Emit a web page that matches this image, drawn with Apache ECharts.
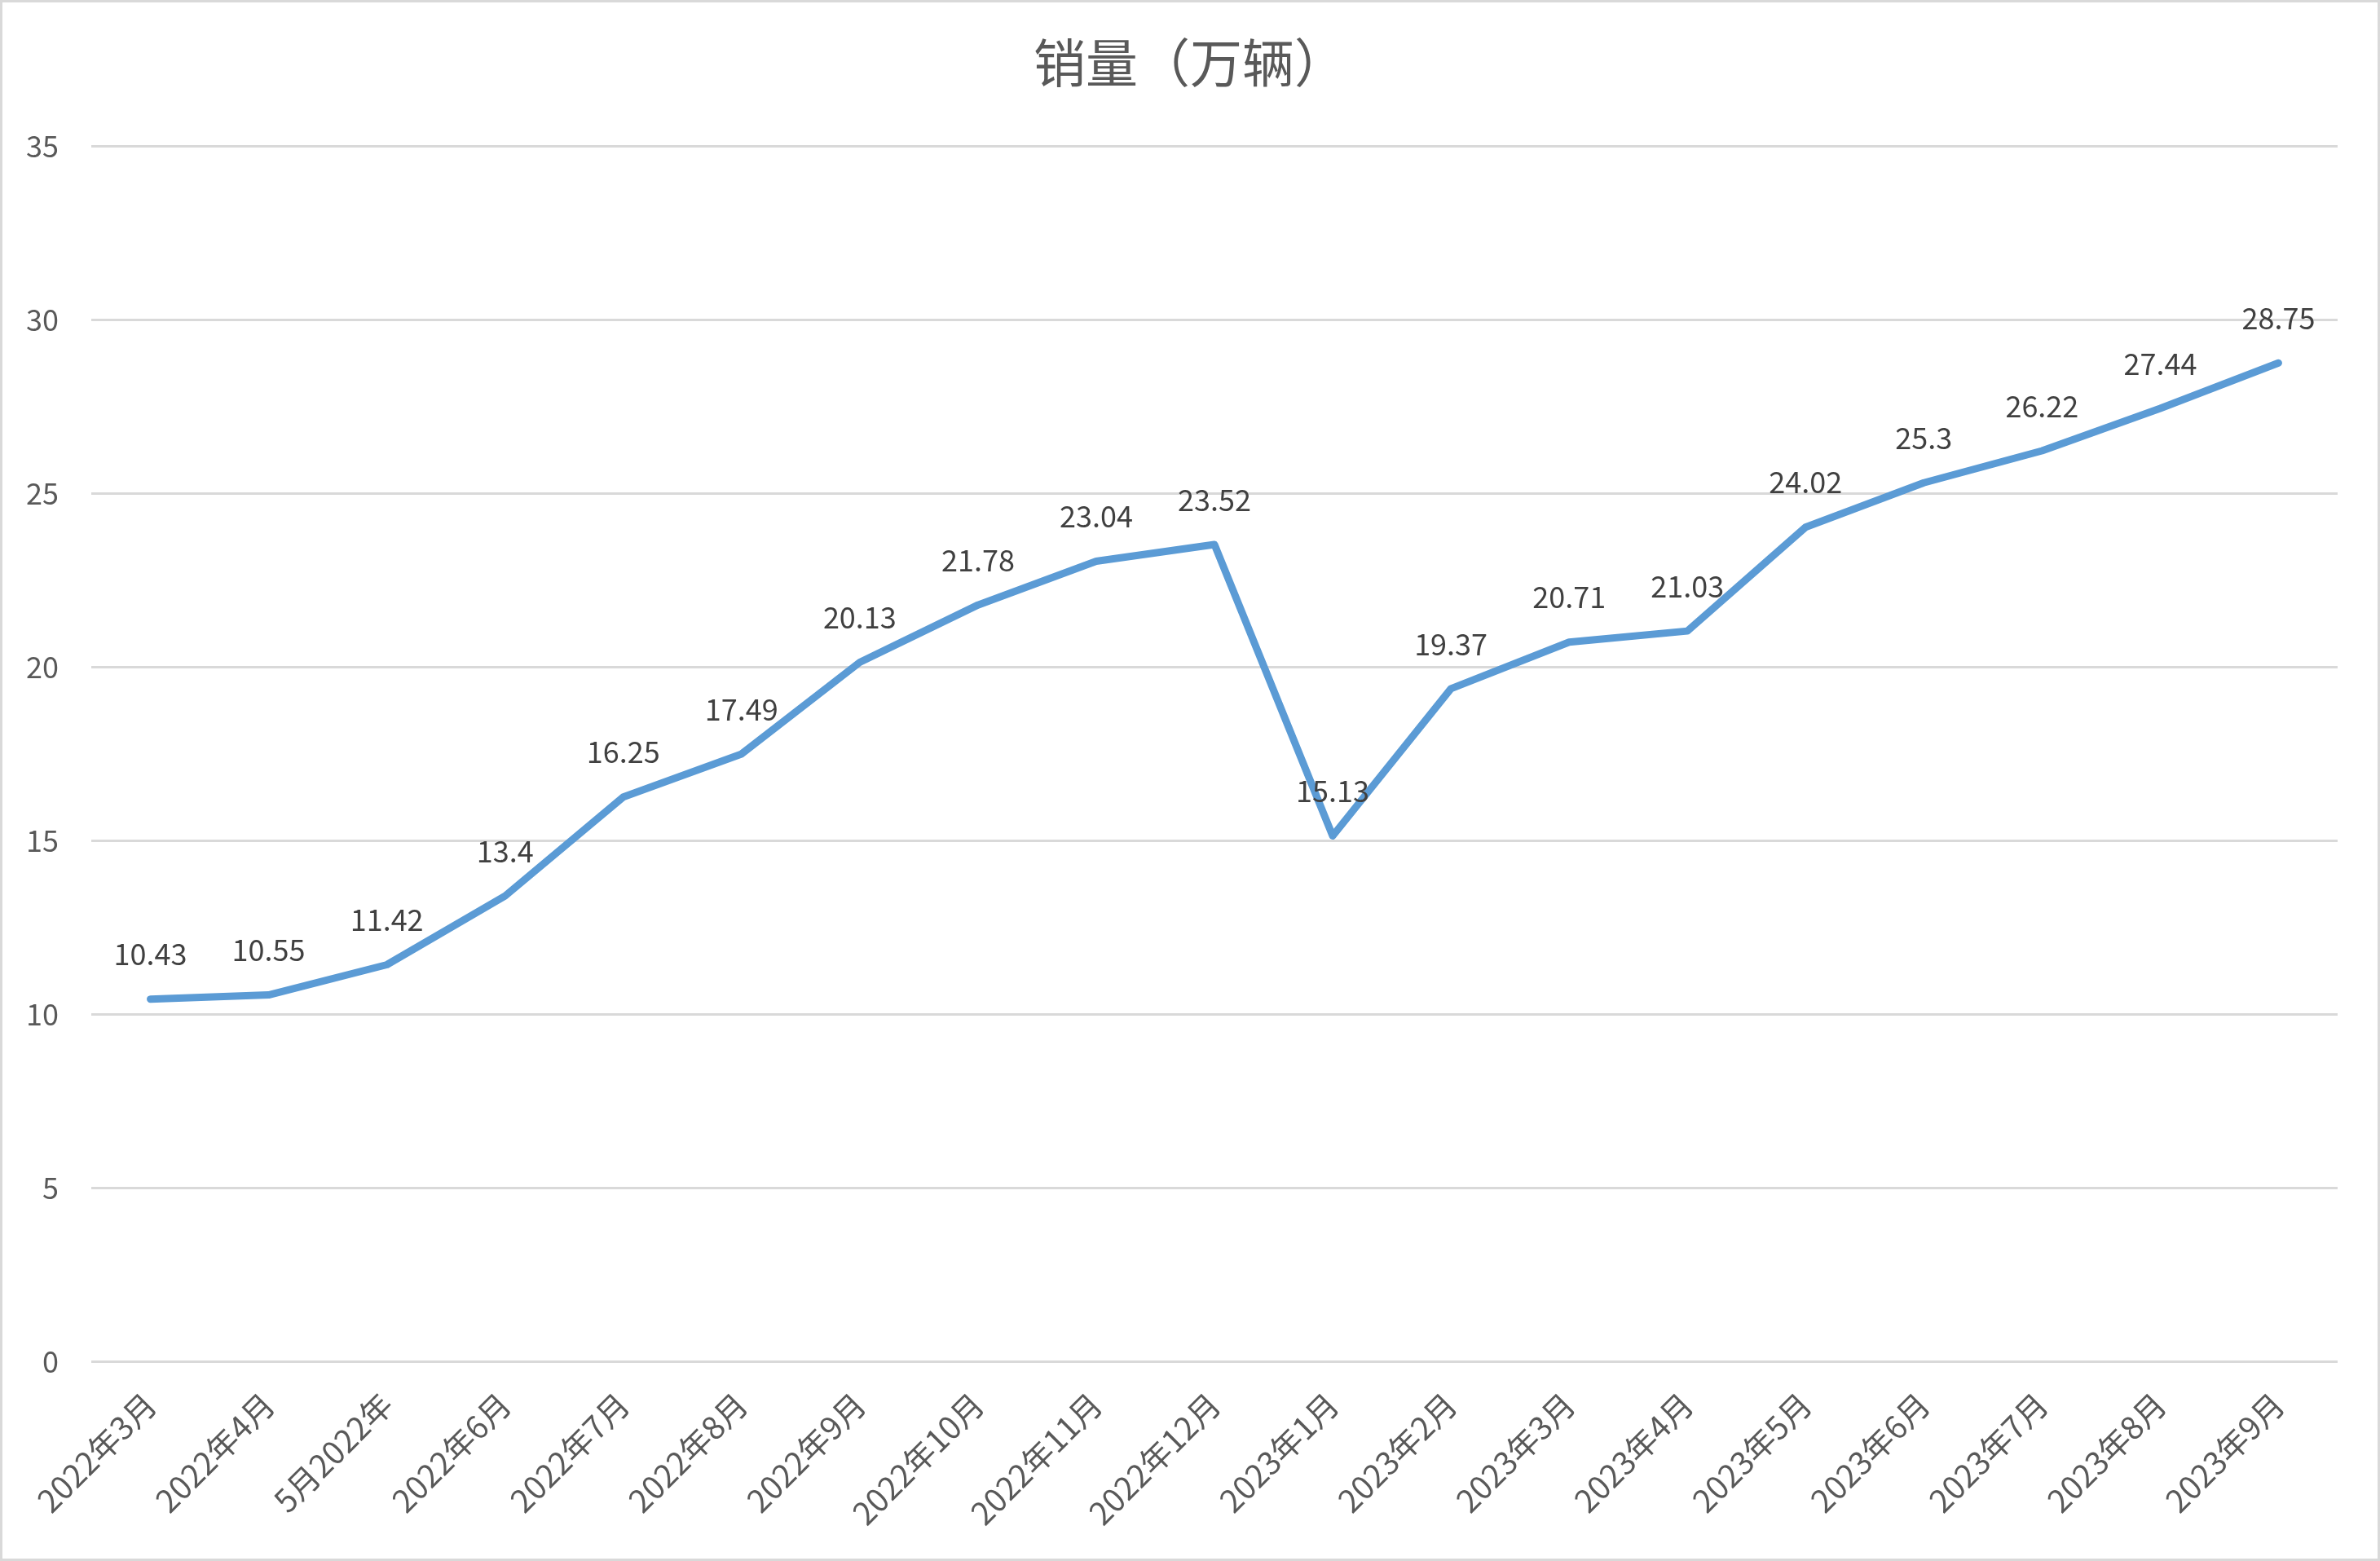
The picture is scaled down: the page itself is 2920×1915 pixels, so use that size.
<!DOCTYPE html>
<html>
<head>
<meta charset="utf-8">
<script src="https://cdn.jsdelivr.net/npm/echarts@6/dist/echarts.min.js"></script>
<style>
html,body{margin:0;padding:0;background:#fff;}
#wrap{position:absolute;left:0;top:0;width:2914px;height:1909px;border:3px solid #d9d9d9;}
#chart{position:absolute;left:-3px;top:-3px;width:2920px;height:1915px;}
</style>
</head>
<body>
<div id="wrap"><div id="chart"></div></div>
<script>
const categories = ['2022年3月','2022年4月','5月2022年','2022年6月','2022年7月','2022年8月','2022年9月','2022年10月','2022年11月','2022年12月','2023年1月','2023年2月','2023年3月','2023年4月','2023年5月','2023年6月','2023年7月','2023年8月','2023年9月'];
const sales = [10.43,10.55,11.42,13.4,16.25,17.49,20.13,21.78,23.04,23.52,15.13,19.37,20.71,21.03,24.02,25.3,26.22,27.44,28.75];
const titleText = '销量（万辆）';
const yMin = 0, yMax = 35, yStep = 5;

const font = '"Noto Sans CJK SC", "Noto Sans", sans-serif';
const chart = echarts.init(document.getElementById('chart'), null, {renderer:'canvas'});
chart.setOption({
  animation:false,
  backgroundColor:'transparent',
  title:{text:titleText,left:'center',top:40,textStyle:{fontFamily:font,fontSize:64,fontWeight:'normal',color:'#595959'}},
  grid:{left:112,right:52,top:179,bottom:245,containLabel:false},
  xAxis:{type:'category',data:categories,boundaryGap:true,
    axisLine:{show:false},axisTick:{show:false},
    axisLabel:{rotate:45,interval:0,margin:46,fontFamily:font,fontSize:39,color:'#595959'}},
  yAxis:{type:'value',min:yMin,max:yMax,interval:yStep,
    axisLine:{show:false},axisTick:{show:false},
    splitLine:{lineStyle:{color:'#d9d9d9',width:3}},
    axisLabel:{margin:40,fontFamily:font,fontSize:36,color:'#595959'}},
  series:[{type:'line',data:sales,symbol:'circle',symbolSize:2,showSymbol:true,
    itemStyle:{color:'#5B9BD5'},
    lineStyle:{color:'#5B9BD5',width:9,cap:'round',join:'round'},
    label:{show:true,position:'top',distance:36,fontFamily:font,fontSize:36,color:'#404040'}}]
});
</script>
</body>
</html>
